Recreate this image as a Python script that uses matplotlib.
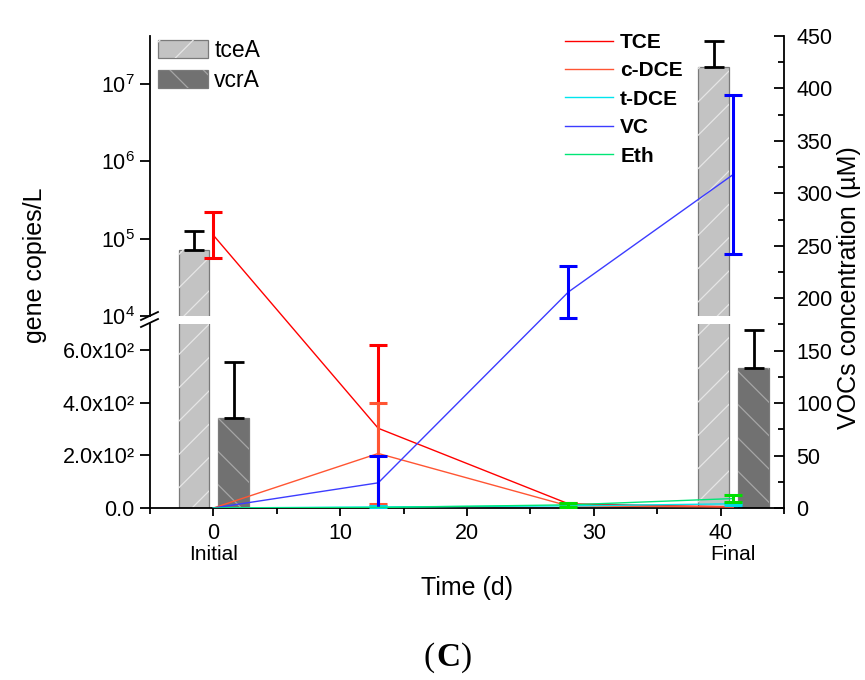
import matplotlib
matplotlib.use("Agg")
import matplotlib.pyplot as plt
import numpy as np
from matplotlib.lines import Line2D
from matplotlib.patches import Patch
from matplotlib.legend_handler import HandlerTuple
from matplotlib.ticker import FixedLocator, MultipleLocator, NullLocator
from matplotlib.transforms import blended_transform_factory

plt.rcParams["font.family"] = ["Liberation Sans", "DejaVu Sans"]
plt.rcParams["mathtext.fontset"] = "custom"
plt.rcParams["mathtext.rm"] = "Liberation Sans"
plt.rcParams["mathtext.it"] = "Liberation Sans:italic"
plt.rcParams["mathtext.bf"] = "Liberation Sans:bold"
plt.rcParams["hatch.linewidth"] = 0.9

# gene copies/L (bars)
bar_days = [0, 41]
bar_labels = ["Initial", "Final"]
tcea = [7.2e4, 1.66e7]
tcea_err = [5.5e4, 1.94e7]
vcra = [342, 532]
vcra_err = [213, 144]

# VOCs concentration (uM)
days = [0, 13, 28, 41]
tce = [260, 76, 4, 1]
tce_err = [22, 79, 1, 0]
cdce = [0, 52, 2, 1]
cdce_err = [0, 48, 0, 0]
tdce = [0, 1, 2, 4]
tdce_err = [0, 1, 0, 1]
vc = [0, 24, 206, 318]
vc_err = [0, 26, 25, 76]
eth = [0, 0.5, 3, 9]
eth_err = [0, 0, 2, 3]

low_ticks = [0, 200, 400, 600]
low_ticklabels = ["0.0", "2.0x10²", "4.0x10²", "6.0x10²"]

W, H = 865, 680


def fx(px):
    return px / W


def fy(py):
    return 1 - py / H


fig = plt.figure(figsize=(W / 100, H / 100), dpi=100)
left, right = fx(150), fx(784)
width = right - left
ax_top = fig.add_axes([left, fy(316), width, fy(36) - fy(316)])
ax_bot = fig.add_axes([left, fy(508), width, fy(324) - fy(508)])
ax_r = fig.add_axes([left, fy(508), width, fy(36) - fy(508)])
ax_r.patch.set_visible(False)

tcea_fill, tcea_hatch = "#c3c3c3", "#e6e6e6"
vcra_fill, vcra_hatch = "#717171", "#a6a6a6"
bar_edge = "#7a7a7a"
bw = 2.4
x_t = np.array(bar_days) - 1.55
x_v = np.array(bar_days) + 1.6

for ax, bottom in ((ax_top, 1), (ax_bot, 0)):
    ax.bar(x_t, np.array(tcea) - bottom, bw, bottom=bottom, color=tcea_fill,
           edgecolor=bar_edge, linewidth=0.9)
    ax.bar(x_t, np.array(tcea) - bottom, bw, bottom=bottom, color="none",
           edgecolor=tcea_hatch, hatch="/", linewidth=0)
    ax.errorbar(x_t, tcea, yerr=[np.zeros(2), tcea_err], fmt="none",
                ecolor="black", elinewidth=2, capsize=7, capthick=2)

ax_bot.bar(x_v, vcra, bw, color=vcra_fill, edgecolor=bar_edge, linewidth=0.9)
ax_bot.bar(x_v, vcra, bw, color="none", edgecolor=vcra_hatch, hatch="\\",
           linewidth=0)
ax_bot.errorbar(x_v, vcra, yerr=[np.zeros(2), vcra_err], fmt="none",
                ecolor="black", elinewidth=2, capsize=7, capthick=2)

series = [
    ("TCE", tce, tce_err, "#ff0000", "#ff0000"),
    ("c-DCE", cdce, cdce_err, "#ff5533", "#ff5533"),
    ("t-DCE", tdce, tdce_err, "#00e5ee", "#00d8e8"),
    ("VC", vc, vc_err, "#3c3cff", "#0000ff"),
    ("Eth", eth, eth_err, "#00e676", "#00e000"),
]
line_handles = []
for name, vals, err, col, ecol in series:
    ln, = ax_r.plot(days, vals, color=col, lw=1.0, label=name)
    line_handles.append(ln)
    mask = np.array(err) > 0
    ax_r.errorbar(np.array(days)[mask], np.array(vals)[mask],
                  yerr=np.array(err)[mask], fmt="none", ecolor=ecol,
                  elinewidth=2.2, capsize=6.5, capthick=2.2)

for ax in (ax_top, ax_bot, ax_r):
    ax.set_xlim(-5, 45)
    for s in ax.spines.values():
        s.set_linewidth(1.3)

# top log part
ax_top.set_yscale("log")
ax_top.set_ylim(1e4, 4.2e7)
ax_top.yaxis.set_major_locator(FixedLocator([1e4, 1e5, 1e6, 1e7]))
ax_top.yaxis.set_minor_locator(NullLocator())
for s in ("top", "right", "bottom"):
    ax_top.spines[s].set_visible(False)
ax_top.set_xticks([])
ax_top.tick_params(axis="y", direction="out", length=7, width=1.3,
                   labelsize=15.5, pad=4)

# lower linear part
ax_bot.set_ylim(0, 700)
ax_bot.set_yticks(low_ticks)
ax_bot.set_yticklabels(low_ticklabels)
for s in ("top", "right"):
    ax_bot.spines[s].set_visible(False)
ax_bot.xaxis.set_major_locator(MultipleLocator(10))
ax_bot.xaxis.set_minor_locator(MultipleLocator(5))
ax_bot.tick_params(axis="y", direction="out", length=7, width=1.3,
                   labelsize=15.5, pad=4)
ax_bot.tick_params(axis="x", which="major", direction="out", length=6,
                   width=1.3, labelsize=15.5, pad=5)
ax_bot.tick_params(axis="x", which="minor", direction="out", length=4,
                   width=1.3)

# right VOC axis
ax_r.set_ylim(0, 450)
ax_r.yaxis.tick_right()
ax_r.yaxis.set_major_locator(MultipleLocator(50))
ax_r.yaxis.set_minor_locator(MultipleLocator(25))
ax_r.set_xticks([])
for s in ("top", "left", "bottom"):
    ax_r.spines[s].set_visible(False)
ax_r.tick_params(axis="y", which="major", direction="in", length=7,
                 width=1.3, labelsize=15.5, pad=9)
ax_r.tick_params(axis="y", which="minor", direction="in", length=4,
                 width=1.3)

# axis break marks
for y0 in (320, 327):
    fig.add_artist(Line2D([fx(141), fx(158)], [fy(y0), fy(y0 - 8)],
                          transform=fig.transFigure, color="black", lw=1.3))

trans = blended_transform_factory(ax_bot.transData, fig.transFigure)
for d, lab in zip(bar_days, bar_labels):
    ax_bot.text(d, fy(555), lab, transform=trans, ha="center", va="center",
                fontsize=15)

fig.text(fx(35), fy(265), "gene copies/L", rotation=90, ha="center",
         va="center", fontsize=18)
fig.text(fx(849), fy(288), "VOCs concentration (µM)", rotation=90,
         ha="center", va="center", fontsize=18)
fig.text(fx(467), fy(588), "Time (d)", ha="center", va="center", fontsize=18)

fig.text(fx(448), fy(658), "C", ha="center", va="center", fontsize=24,
         family="Liberation Serif", weight="bold")
fig.text(fx(435), fy(658), "(", ha="right", va="center", fontsize=24,
         family="Liberation Serif")
fig.text(fx(461), fy(658), ")", ha="left", va="center", fontsize=24,
         family="Liberation Serif")

bar_handles = [
    (Patch(facecolor=tcea_fill, edgecolor=bar_edge, linewidth=0.9),
     Patch(facecolor="none", edgecolor=tcea_hatch, hatch="/", linewidth=0)),
    (Patch(facecolor=vcra_fill, edgecolor=bar_edge, linewidth=0.9),
     Patch(facecolor="none", edgecolor=vcra_hatch, hatch="\\", linewidth=0)),
]
ax_top.legend(bar_handles, ["tceA", "vcrA"], loc="upper left",
              bbox_to_anchor=(fx(158), fy(39)), bbox_transform=fig.transFigure,
              frameon=False, fontsize=16.5, handlelength=2.2, handleheight=0.85,
              handletextpad=0.25, labelspacing=0.3, borderpad=0,
              borderaxespad=0, handler_map={tuple: HandlerTuple(ndivide=1)})

ax_r.legend(line_handles, [s[0] for s in series], loc="upper left",
            bbox_to_anchor=(fx(565), fy(33)), bbox_transform=fig.transFigure,
            frameon=False, prop=dict(weight="bold", size=15),
            handlelength=2.3, handletextpad=0.35, labelspacing=0.45,
            borderpad=0, borderaxespad=0)

fig.savefig("out.png", dpi=100)
